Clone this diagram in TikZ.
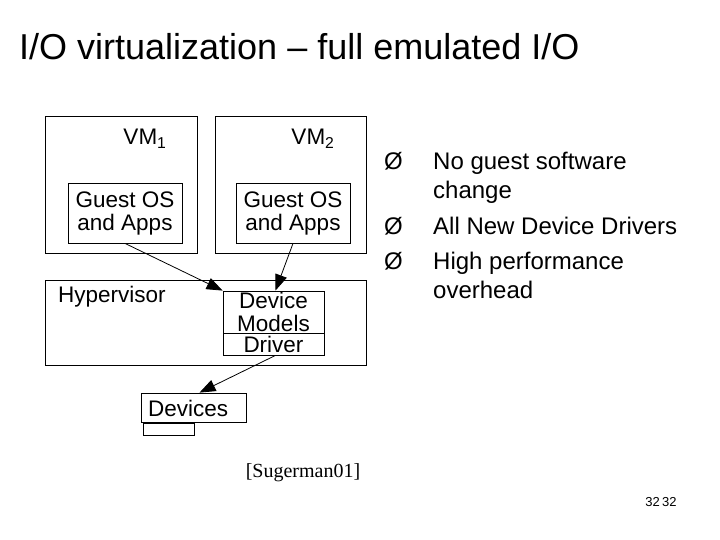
\documentclass[tikz,border=0pt]{standalone}
\usepackage{fontspec}
\setmainfont{Liberation Sans}
\newfontfamily\serifx{Liberation Serif}
\usetikzlibrary{arrows.meta}
\begin{document}
\begin{tikzpicture}[x=1pt,y=1pt,
  box/.style={draw,line width=0.8pt,inner sep=0pt},
  lbl/.style={font=\fontsize{22.5}{23}\selectfont,align=center,inner sep=0pt},
  arr/.style={draw,line width=0.8pt,-{Triangle[length=16pt,width=12pt]}},
  bul/.style={font=\fontsize{24}{29}\selectfont,anchor=base west,inner sep=0pt}]
\useasboundingbox (0,0) rectangle (720,-540);
\node[anchor=west,font=\fontsize{36}{40}\selectfont,inner sep=0pt] (title) at (19,-47) {I/O virtualization – full emulated I/O};
\draw[box] (45,-116) rectangle (197,-253);
\draw[box] (215,-116) rectangle (366,-253);
\node[lbl] (l1) at (145,-139) {VM\textsubscript{1}};
\node[lbl] (l2) at (313,-139) {VM\textsubscript{2}};
\node[box,minimum width=114pt,minimum height=60pt,lbl] (g1) at (125,-213) {Guest OS\\and Apps};
\node[box,minimum width=114pt,minimum height=60pt,lbl] (g2) at (293,-213) {Guest OS\\and Apps};
\draw[box] (45,-280) rectangle (366,-365);
\node[lbl,anchor=west] (hv) at (58,-297) {Hypervisor};
\node[box,minimum width=101pt,minimum height=42pt,lbl] (dm) at (273.5,-312) {Device\\Models};
\node[box,minimum width=101pt,minimum height=22pt,lbl] (dr) at (273.5,-344) {Driver};
\node[box,minimum width=105pt,minimum height=29pt] (dev) at (193.5,-407.5) {};
\node[lbl,anchor=west] (devt) at (148,-408) {Devices};
\node[draw,line width=0.6pt,minimum width=51pt,minimum height=12pt,inner sep=0pt] (sm) at (168.5,-429) {};
\draw[line width=2pt] (sm.north west) -- (sm.north east);
\draw[arr] (g1.south) -- (dm.north west);
\draw[arr] (g2.south) -- ([xshift=2pt]dm.north);
\draw[arr] ([xshift=2pt]dr.south) -- ([xshift=6pt]dev.north);
\node[bul] (b1) at (384,-170) {Ø};
\node[bul] (t1) at (433,-170) {No guest software};
\node[bul] (t1b) at (433,-199) {change};
\node[bul] (b2) at (384,-234) {Ø};
\node[bul] (t2) at (433,-234) {All New Device Drivers};
\node[bul] (b3) at (384,-269) {Ø};
\node[bul] (t3) at (433,-269) {High performance};
\node[bul] (t3b) at (433,-298) {overhead};
\node[font=\serifx\fontsize{20}{22}\selectfont,inner sep=0pt] (ref) at (303,-473) {[Sugerman01]};
\node[font=\fontsize{13}{14}\selectfont,inner sep=0pt] (pg) at (661,-502) {32\,32};
\end{tikzpicture}
\end{document}
